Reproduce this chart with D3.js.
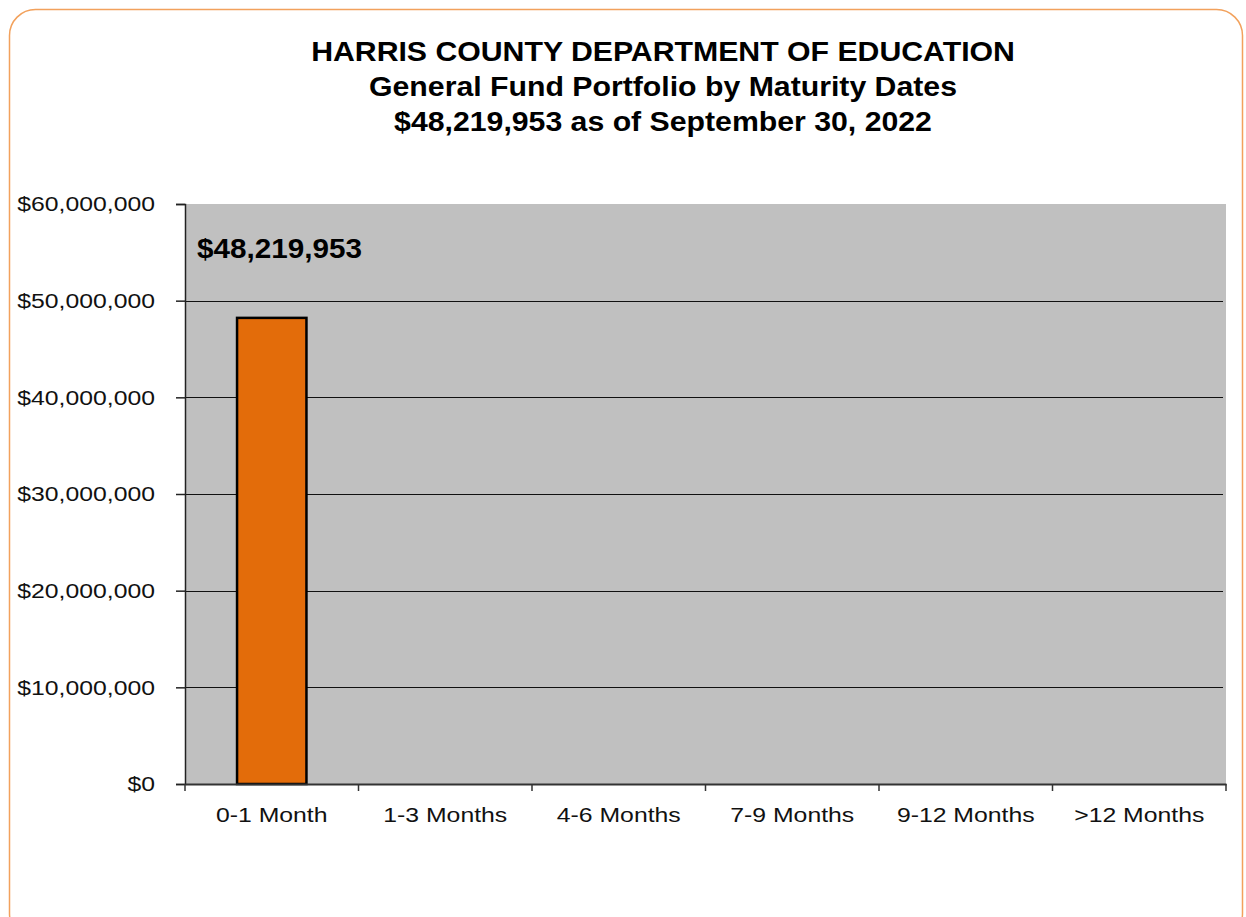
<!DOCTYPE html>
<html>
<head>
<meta charset="utf-8">
<script src="https://cdn.jsdelivr.net/npm/d3@7"></script>
<style>
  body { margin: 0; background: #fff; }
  svg { display: block; font-family: "Liberation Sans", Arial, sans-serif; }
</style>
</head>
<body>
<svg width="1246" height="917"></svg>
<script>
const categories = ['0-1 Month', '1-3 Months', '4-6 Months', '7-9 Months', '9-12 Months', '>12 Months'];
const values = [48219953, 0, 0, 0, 0, 0];
const yTicks = [0, 10000000, 20000000, 30000000, 40000000, 50000000, 60000000];
const titleLines = [
  'HARRIS COUNTY DEPARTMENT OF EDUCATION',
  'General Fund Portfolio by Maturity Dates',
  '$48,219,953 as of September 30, 2022'
];

const svg = d3.select('svg');
const margin = { top: 204, left: 185, right: 1226, bottom: 784 };

// the reference text is a bit wider than Liberation Sans, stretch it sideways
function stretch(sel, s) {
  sel.each(function () {
    const t = d3.select(this);
    const x0 = +t.attr('x') || 0;
    t.attr('x', 0).attr('transform', `translate(${x0},0) scale(${s},1)`);
  });
}

// outer frame
svg.append('rect')
  .attr('x', 9.5).attr('y', 9.5)
  .attr('width', 1233).attr('height', 930)
  .attr('rx', 26)
  .attr('fill', '#fff')
  .attr('stroke', '#f2a15c')
  .attr('stroke-width', 1.5);

// title
svg.append('g')
  .selectAll('text')
  .data(titleLines)
  .join('text')
  .attr('x', 663)
  .attr('y', (d, i) => 61 + i * 35)
  .attr('text-anchor', 'middle')
  .attr('font-weight', 'bold')
  .attr('font-size', 27.5)
  .text((d) => d)
  .call(stretch, 1.1);

const x = d3.scaleBand().domain(categories).range([margin.left, margin.right]).paddingInner(0).paddingOuter(0);
const y = d3.scaleLinear().domain([0, 60000000]).range([margin.bottom, margin.top]);

// plot background
svg.append('rect')
  .attr('x', margin.left).attr('y', margin.top)
  .attr('width', margin.right - margin.left)
  .attr('height', margin.bottom - margin.top)
  .attr('fill', '#c0c0c0');

// gridlines
svg.append('g')
  .selectAll('line')
  .data(yTicks.filter((t) => t > 0 && t < 60000000))
  .join('line')
  .attr('x1', margin.left).attr('x2', margin.right - 3)
  .attr('y1', (d) => Math.round(y(d)) + 0.5)
  .attr('y2', (d) => Math.round(y(d)) + 0.5)
  .attr('stroke', '#111')
  .attr('stroke-width', 1);

// y axis
const fmt = (v) => '$' + d3.format(',')(v);
const yAxis = svg.append('g')
  .attr('transform', `translate(${margin.left},0)`)
  .call(d3.axisLeft(y).tickValues(yTicks).tickFormat(fmt).tickSize(9).tickPadding(21));
yAxis.select('.domain').attr('stroke', '#222').attr('stroke-width', 1.5);
yAxis.selectAll('.tick line').attr('stroke', '#222').attr('stroke-width', 1.5);
yAxis.selectAll('.tick text')
  .attr('font-size', 21)
  .attr('font-family', '"Liberation Sans", Arial, sans-serif')
  .attr('fill', '#111')
  .call(stretch, 1.18);

// bars
const barW = x.bandwidth() * 0.4;
svg.append('g')
  .selectAll('rect')
  .data(categories.map((c, i) => ({ c, v: values[i] })).filter((d) => d.v > 0))
  .join('rect')
  .attr('x', (d) => x(d.c) + (x.bandwidth() - barW) / 2)
  .attr('y', (d) => y(d.v))
  .attr('width', barW)
  .attr('height', (d) => y(0) - y(d.v))
  .attr('fill', '#e36c0a')
  .attr('stroke', '#000')
  .attr('stroke-width', 2.5);

// x axis
const xAxis = svg.append('g')
  .attr('transform', `translate(0,${margin.bottom})`)
  .call(d3.axisBottom(x).tickSize(0).tickPadding(23));
xAxis.select('.domain').attr('stroke', '#333').attr('stroke-width', 2);
xAxis.selectAll('.tick text')
  .attr('font-size', 21)
  .attr('font-family', '"Liberation Sans", Arial, sans-serif')
  .attr('fill', '#111')
  .call(stretch, 1.18);
// boundary ticks between categories
xAxis.append('g')
  .selectAll('line')
  .data(d3.range(categories.length + 1))
  .join('line')
  .attr('x1', (i) => margin.left + i * x.step())
  .attr('x2', (i) => margin.left + i * x.step())
  .attr('y1', 0).attr('y2', 7)
  .attr('stroke', '#333')
  .attr('stroke-width', 1.5);

// data label
svg.append('text')
  .attr('x', 197)
  .attr('y', 258)
  .attr('font-weight', 'bold')
  .attr('font-size', 28)
  .text(fmt(values[0]))
  .call(stretch, 1.06);
</script>
</body>
</html>
